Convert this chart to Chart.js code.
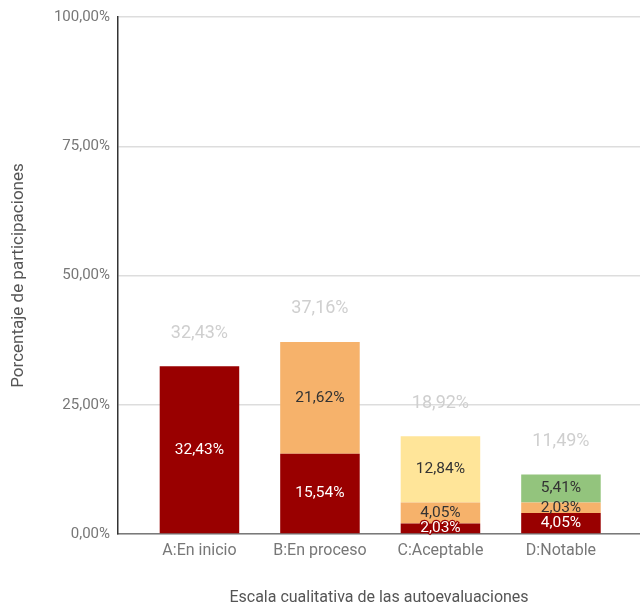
<!DOCTYPE html>
<html>
<head>
<meta charset="utf-8">
<script src="https://cdn.jsdelivr.net/npm/chart.js@4.4.0/dist/chart.umd.min.js"></script>
<style>
  body { margin: 0; background: #fff; }
  #wrap { width: 640px; height: 611px; position: relative; }
</style>
</head>
<body>
<div id="wrap"><canvas id="escalaChart"></canvas></div>
<script>
// Categories and series (percent of participations)
const categories = ['A:En inicio', 'B:En proceso', 'C:Aceptable', 'D:Notable'];
const seriesRed = [32.43, 15.54, 2.03, 4.05];
const seriesOrange = [null, 21.62, 4.05, 2.03];
const seriesYellow = [null, null, 12.84, null];
const seriesGreen = [null, null, null, 5.41];
const yTicks = [0, 25, 50, 75, 100];

const toPoints = arr => arr.map((v, i) => ({ x: i, y: v }));
const fmt = v => v.toFixed(2).replace('.', ',') + '%';

const FONT = 'Roboto, "Liberation Sans", sans-serif';

// Draw values inside segments and totals above the stacks
const labelPlugin = {
    id: 'segmentLabels',
    afterDatasetsDraw(chart) {
        const ctx = chart.ctx;
        ctx.save();
        ctx.textAlign = 'center';
        ctx.textBaseline = 'middle';
        ctx.font = '15.5px ' + FONT;
        const tops = [];
        chart.data.datasets.forEach((ds, di) => {
            const meta = chart.getDatasetMeta(di);
            meta.data.forEach((el, i) => {
                const v = ds.data[i].y;
                if (v == null) return;
                const cy = (el.y + el.base) / 2;
                if (tops[i] == null || el.y < tops[i]) tops[i] = el.y;
                if (ds.labelColor === '#ffffff') {
                    ctx.lineWidth = 2.5;
                    ctx.strokeStyle = '#990000';
                    ctx.strokeText(fmt(v), el.x, cy);
                }
                ctx.fillStyle = ds.labelColor;
                ctx.fillText(fmt(v), el.x, cy);
            });
        });
        // totals
        ctx.font = '18px ' + FONT;
        ctx.fillStyle = '#cfcfcf';
        const meta0 = chart.getDatasetMeta(0);
        categories.forEach((c, i) => {
            const total = [seriesRed, seriesOrange, seriesYellow, seriesGreen]
                .reduce((s, arr) => s + (arr[i] || 0), 0);
            ctx.fillText(fmt(total), meta0.data[i].x, tops[i] - 33);
        });
        ctx.restore();
    }
};

function initChart() {
    const el = document.getElementById('escalaChart');
    new Chart(el.getContext('2d'), {
        type: 'bar',
        data: {
            datasets: [
                { label: 'A', data: toPoints(seriesRed), backgroundColor: '#990000', labelColor: '#ffffff' },
                { label: 'B', data: toPoints(seriesOrange), backgroundColor: '#f6b26b', labelColor: '#333333' },
                { label: 'C', data: toPoints(seriesYellow), backgroundColor: '#ffe599', labelColor: '#333333' },
                { label: 'D', data: toPoints(seriesGreen), backgroundColor: '#93c47d', labelColor: '#333333' }
            ]
        },
        options: {
            responsive: true,
            maintainAspectRatio: false,
            animation: false,
            categoryPercentage: 1,
            barPercentage: 0.66,
            layout: { padding: { top: 16, right: 0, left: 0, bottom: 0 } },
            plugins: { legend: { display: false }, tooltip: { enabled: false } },
            scales: {
                x: {
                    type: 'linear',
                    stacked: true,
                    offset: false,
                    min: -0.676,
                    max: 3.656,
                    afterBuildTicks: axis => { axis.ticks = categories.map((c, i) => ({ value: i })); },
                    afterFit: scale => { scale.height = 77; },
                    grid: { display: true, offset: false, color: 'rgba(0,0,0,0)', drawTicks: false },
                    border: { display: true, color: '#7a7a7a', width: 1.5 },
                    ticks: {
                        padding: 7,
                        color: '#777',
                        font: { family: FONT, size: 16 },
                        autoSkip: false,
                        maxRotation: 0,
                        callback: v => categories[v]
                    },
                    title: {
                        display: true,
                        text: 'Escala cualitativa de las autoevaluaciones',
                        color: '#555',
                        font: { family: FONT, size: 16 },
                        padding: { top: 0, bottom: 3 }
                    }
                },
                y: {
                    stacked: true,
                    min: 0,
                    max: 100,
                    afterBuildTicks: axis => { axis.ticks = yTicks.map(v => ({ value: v })); },
                    afterFit: scale => { scale.width = 118; },
                    grid: { color: '#dddddd', drawTicks: false, lineWidth: 1.5 },
                    border: { display: true, color: '#333', width: 1.5 },
                    ticks: {
                        padding: 8,
                        color: '#777',
                        font: { family: FONT, size: 15 },
                        callback: v => fmt(v)
                    },
                    title: {
                        display: true,
                        text: 'Porcentaje de participaciones',
                        color: '#555',
                        font: { family: FONT, size: 17 },
                        padding: { top: 9, bottom: 0 }
                    }
                }
            }
        },
        plugins: [labelPlugin]
    });
}

document.addEventListener('DOMContentLoaded', initChart);
</script>
</body>
</html>
